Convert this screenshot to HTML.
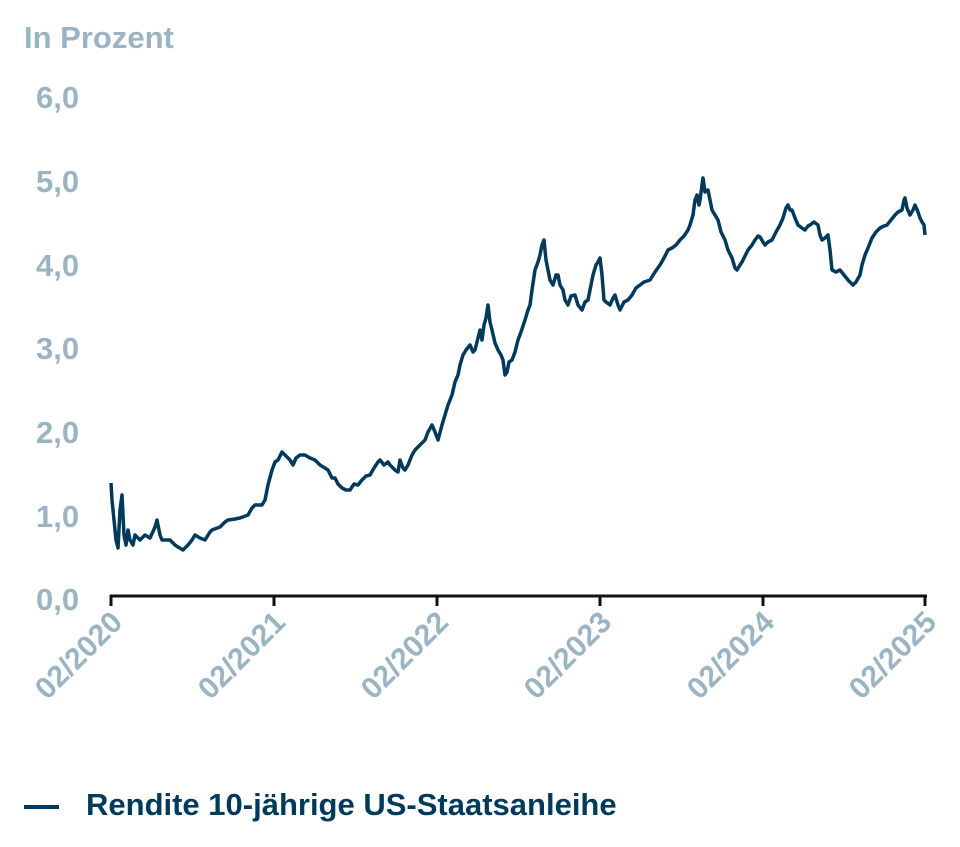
<!DOCTYPE html>
<html><head><meta charset="utf-8"><style>
html,body{margin:0;padding:0;background:#fff;}
svg{display:block;font-family:"Liberation Sans",sans-serif;font-weight:bold;}
</style></head><body>
<svg width="960" height="847" viewBox="0 0 960 847">
<text x="24" y="48" font-size="31" fill="#9bb4c4">In Prozent</text>
<g font-size="31" fill="#9bb4c4" text-anchor="start">
<text x="36" y="108">6,0</text>
<text x="36" y="192">5,0</text>
<text x="36" y="276">4,0</text>
<text x="36" y="359">3,0</text>
<text x="36" y="443">2,0</text>
<text x="36" y="527">1,0</text>
<text x="36" y="610">0,0</text>
</g>
<g stroke="#111" stroke-width="3" fill="none">
<line x1="110" y1="596" x2="927" y2="596"/>
<line x1="111" y1="595" x2="111" y2="606"/>
<line x1="274" y1="595" x2="274" y2="606"/>
<line x1="437" y1="595" x2="437" y2="606"/>
<line x1="600" y1="595" x2="600" y2="606"/>
<line x1="763" y1="595" x2="763" y2="606"/>
<line x1="925" y1="595" x2="925" y2="606"/>
</g>
<g font-size="30" fill="#9bb4c4" text-anchor="end">
<text transform="translate(124,624) rotate(-45)">02/2020</text>
<text transform="translate(287,624) rotate(-45)">02/2021</text>
<text transform="translate(450,624) rotate(-45)">02/2022</text>
<text transform="translate(613,624) rotate(-45)">02/2023</text>
<text transform="translate(776,624) rotate(-45)">02/2024</text>
<text transform="translate(938,624) rotate(-45)">02/2025</text>
</g>
<polyline fill="none" stroke="#003a5d" stroke-width="3.5" stroke-linejoin="round" points="
111,483 112,500 114,520 116,540 118,548 120,510 122,495 124,535 126,545 128,530 130,540 133,545 135,535 140,540 145,535 150,538 155,527 157,520 160,535 162,540 170,540 175,545 178,547 183,550 188,545 192,540 195,535 200,538 205,540 210,532 212,530 220,527 225,522 228,520 235,519 240,518 248,515 252,508 255,505 262,505 265,500 268,485 272,470 275,462 278,460 282,452 285,455 288,458 290,460 293,465 296,458 300,455 305,455 310,458 315,460 320,465 325,468 328,470 332,478 335,478 338,484 342,488 346,490 350,490 354,484 358,485 362,480 366,476 370,475 374,468 378,462 380,460 384,465 388,462 390,465 395,470 398,472 400,460 403,468 405,470 408,465 412,455 415,450 420,445 425,440 428,432 432,425 435,432 438,440 442,425 445,415 448,405 452,395 455,382 458,375 460,365 463,355 466,350 470,345 473,352 475,350 478,338 480,330 482,340 484,325 486,318 488,305 490,322 492,330 495,343 498,350 501,355 503,360 505,375 507,372 509,362 512,360 515,352 518,340 521,332 525,320 528,310 530,305 532,290 535,270 538,262 540,255 542,245 544,240 546,260 548,270 550,280 553,285 556,275 558,275 560,285 563,290 565,300 568,305 571,296 575,295 578,305 582,310 585,302 588,300 590,290 593,275 596,265 598,262 600,258 602,275 604,300 606,302 610,305 613,298 615,295 618,305 620,310 624,302 628,300 632,295 636,288 640,285 644,282 650,280 655,272 660,265 664,258 668,250 672,248 676,245 680,240 684,236 688,230 690,225 693,215 695,200 697,195 699,205 700,200 702,185 703,178 705,192 708,190 710,200 712,210 715,215 718,220 721,232 725,240 728,250 732,258 735,268 737,270 740,265 742,262 745,256 748,250 752,245 755,240 758,236 760,237 763,242 765,245 768,242 772,240 776,232 780,225 783,218 786,208 788,205 790,210 792,210 795,218 798,225 802,228 805,230 808,226 810,225 814,222 818,225 820,235 822,240 825,238 828,235 830,250 832,270 836,272 840,270 844,275 848,280 853,285 856,282 860,275 862,265 865,255 868,248 872,238 876,232 880,228 884,226 887,225 891,220 895,215 898,212 902,210 904,200 905,198 907,208 910,215 913,210 915,205 918,212 920,218 922,222 924,225 925,235"/>
<rect x="24" y="805" width="35" height="4" fill="#003a5d"/>
<text x="86" y="815" font-size="31" fill="#003a5d">Rendite 10-jährige US-Staatsanleihe</text>
</svg>
</body></html>
